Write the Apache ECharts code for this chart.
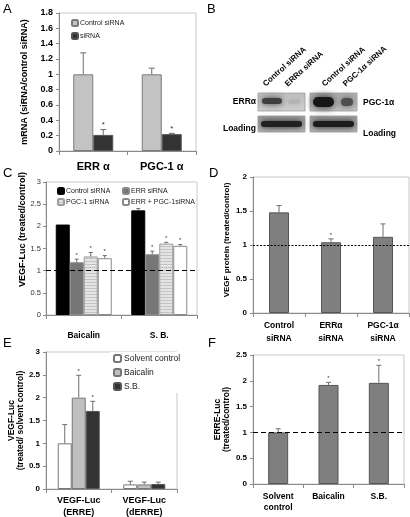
<!DOCTYPE html>
<html><head><meta charset="utf-8">
<script src="https://cdn.jsdelivr.net/npm/echarts@6/dist/echarts.min.js"></script>
<style>html,body{margin:0;padding:0;background:#fff}#c{width:410px;height:517px}</style>
</head><body><div id="c"></div>
<script>
// ---------- DATA ----------
// Panel A
const aCategories = ['ERR α', 'PGC-1 α'];
const aControl = [1.0, 1.0];
const aControlErr = [0.28, 0.08];
const aControlStar = [0, 0];
const aSirna = [0.21, 0.22];
const aSirnaErr = [0.07, 0.01];
const aSirnaStar = [1, 1];
const aTicks = [0, 1.8, 0.2];
// Panel C
const cCategories = ['Baicalin', 'S. B.'];
const cControl = [2.04, 2.36];
const cControlErr = [0, 0.04];
const cControlStar = [0, 0];
const cErr = [1.19, 1.37];
const cErrErr = [0.07, 0.07];
const cErrStar = [1, 1];
const cPgc = [1.32, 1.61];
const cPgcErr = [0.09, 0.03];
const cPgcStar = [1, 1];
const cBoth = [1.28, 1.56];
const cBothErr = [0.06, 0.03];
const cBothStar = [1, 1];
const cTicks = [0, 3, 0.5];
// Panel D
const dCategories = ['Control\nsiRNA', 'ERRα\nsiRNA', 'PGC-1α\nsiRNA'];
const dValues = [1.48, 1.04, 1.12];
const dErr = [0.1, 0.05, 0.19];
const dStar = [0, 1, 0];
const dTicks = [0, 2, 0.5];
// Panel E
const eCategories = ['VEGF-Luc\n(ERRE)', 'VEGF-Luc\n(dERRE)'];
const eSolvent = [1.0, 0.1];
const eSolventErr = [0.41, 0.07];
const eSolventStar = [0, 0];
const eBaicalin = [2.0, 0.1];
const eBaicalinErr = [0.49, 0.05];
const eBaicalinStar = [1, 0];
const eSB = [1.71, 0.11];
const eSBErr = [0.21, 0.04];
const eSBStar = [1, 0];
const eTicks = [0, 3, 0.5];
// Panel F
const fCategories = ['Solvent\ncontrol', 'Baicalin', 'S.B.'];
const fValues = [1.0, 1.92, 1.96];
const fErr = [0.07, 0.05, 0.34];
const fStar = [0, 1, 1];
const fTicks = [0, 2.5, 0.5];
// Reference line value
const refLine = 1;
// Blot labels (panel B)
const blotLaneLabels = ['Control siRNA', 'ERRα siRNA', 'Control siRNA', 'PGC-1α siRNA'];

// ---------- STYLE ----------
const FONT = "'Liberation Sans', Arial, sans-serif";
const AX = '#8a8a8a';

function stripe() {
  const cv = document.createElement('canvas');
  cv.width = 4; cv.height = 3;
  const g = cv.getContext('2d');
  g.fillStyle = '#e4e4e4'; g.fillRect(0, 0, 4, 3);
  g.fillStyle = '#c4c4c4'; g.fillRect(0, 0, 4, 1);
  return cv;
}

function yAx(gi, t, opts) {
  return Object.assign({
    type: 'value', gridIndex: gi, min: t[0], max: t[1], interval: t[2],
    axisLine: { show: true, lineStyle: { color: AX } },
    axisTick: { show: true, length: 3, lineStyle: { color: AX } },
    splitLine: { show: false },
    axisLabel: { fontFamily: FONT, fontSize: 8, fontWeight: 'bold', color: '#000', margin: 6 },
    nameLocation: 'middle', nameRotate: 90
  }, opts);
}
function xAx(gi, cats, lbl) {
  return {
    type: 'category', gridIndex: gi, data: cats,
    axisLine: { show: true, lineStyle: { color: AX } },
    axisTick: { show: true, length: 4, lineStyle: { color: AX } },
    axisLabel: Object.assign({ fontFamily: FONT, fontWeight: 'bold', color: '#000', interval: 0 }, lbl)
  };
}
function bar(name, gi, data, barW, style, extra) {
  return Object.assign({
    type: 'bar', name: name, xAxisIndex: gi, yAxisIndex: gi, data: data,
    barWidth: barW, barGap: '0%', itemStyle: style, silent: true, animation: false
  }, extra || {});
}
function errS(gi, vals, errs, stars, idx, n, barW, capW, starSize) {
  const data = vals.map((v, i) => [i, v, errs[i], stars[i]]);
  return {
    type: 'custom', name: 'err' + gi + '_' + idx, xAxisIndex: gi, yAxisIndex: gi,
    data: data, encode: { x: 0, y: 1 }, silent: true, animation: false, z: 5,
    renderItem: function (params, api) {
      const ci = api.value(0), v = api.value(1), e = api.value(2), s = api.value(3);
      const base = api.coord([ci, v]);
      const top = api.coord([ci, v + e]);
      const x = base[0] + (idx - (n - 1) / 2) * barW;
      const ch = [];
      if (e > 0) {
        ch.push({ type: 'line', shape: { x1: x, y1: base[1], x2: x, y2: top[1] }, style: { stroke: '#6e6e6e', lineWidth: 1 } });
        ch.push({ type: 'line', shape: { x1: x - capW / 2, y1: top[1], x2: x + capW / 2, y2: top[1] }, style: { stroke: '#6e6e6e', lineWidth: 1 } });
      }
      if (s) {
        ch.push({ type: 'text', style: { text: '*', x: x, y: top[1] - 1, textAlign: 'center', textVerticalAlign: 'bottom', fontSize: starSize, fontFamily: FONT, fill: '#333' } });
      }
      return { type: 'group', children: ch };
    }
  };
}
function refMark(type, w) {
  return { silent: true, symbol: 'none', label: { show: false }, animation: false,
    lineStyle: { type: type, color: '#000', width: w }, data: [{ yAxis: refLine }] };
}
const fmt = n => n.split('#')[0];

// ---------- BLOT (panel B, schematic image) ----------
function blotBox(x, y, w, h, bgTop, bgBot, bands) {
  const els = [{ type: 'rect', shape: { x: x, y: y, width: w, height: h },
    style: { fill: { type: 'linear', x: 0, y: 0, x2: 0, y2: 1, colorStops: [{ offset: 0, color: bgTop }, { offset: 1, color: bgBot }] }, stroke: '#a0a0a0', lineWidth: 0.8 } }];
  bands.forEach(b => els.push({ type: 'rect', shape: { x: b[0], y: b[1], width: b[2], height: b[3], r: b[3] / 2 },
    style: { fill: b[4], opacity: b[6] || 1, shadowBlur: b[5], shadowColor: b[4] } }));
  return { type: 'group', children: els, silent: true };
}
const graphics = [];
[['A', 3, 3], ['B', 207, 3], ['C', 3, 167], ['D', 209, 167], ['E', 3, 337], ['F', 208, 337]].forEach(p => {
  graphics.push({ type: 'text', x: p[1], y: p[2], style: { text: p[0], fontFamily: FONT, fontSize: 13, fill: '#000', textVerticalAlign: 'top' } });
});
graphics.push(blotBox(258, 93, 47, 18, '#bdbdbd', '#cfcfcf', [[262, 98, 20, 6, '#3a3a3a', 7, 0.95], [288, 99, 12, 5, '#b2b2b2', 5, 0.8]]));
graphics.push(blotBox(310, 93, 47, 18, '#b0b0b0', '#c4c4c4', [[313, 97, 21, 10, '#161616', 8], [341, 98, 12, 8, '#4e4e4e', 7]]));
graphics.push(blotBox(258, 116, 47, 16, '#9c9c9c', '#b4b4b4', [[261, 121, 41, 6, '#202020', 6]]));
graphics.push(blotBox(310, 116, 47, 16, '#9c9c9c', '#b4b4b4', [[313, 121, 41, 6, '#1c1c1c', 6]]));
[[267, 88], [289, 88], [326, 88], [347, 88]].forEach((a, i) => {
  graphics.push({ type: 'text', x: a[0], y: a[1], rotation: 42 * Math.PI / 180,
    style: { text: blotLaneLabels[i], fontFamily: FONT, fontSize: 8, fontWeight: 'bold', fill: '#000', textAlign: 'left', textVerticalAlign: 'bottom' } });
});
[['ERRα', 256, 102, 'right'], ['Loading', 256, 129, 'right'], ['PGC-1α', 363, 103, 'left'], ['Loading', 363, 134, 'left']].forEach(t => {
  graphics.push({ type: 'text', x: t[1], y: t[2], style: { text: t[0], fontFamily: FONT, fontSize: 8.5, fontWeight: 'bold', fill: '#000', textAlign: t[3], textVerticalAlign: 'middle' } });
});

// ---------- OPTION ----------
const gridBase = { show: true, borderColor: '#c8c8c8', borderWidth: 1, backgroundColor: 'transparent', containLabel: false, outerBoundsMode: 'none' };
const stripeImg = stripe();
const option = {
  animation: false,
  backgroundColor: '#fff',
  textStyle: { fontFamily: FONT },
  grid: [
    Object.assign({ left: 59, top: 13, width: 137, height: 138 }, gridBase),
    Object.assign({ left: 46, top: 182, width: 151, height: 133 }, gridBase),
    Object.assign({ left: 253, top: 177, width: 156, height: 136 }, gridBase),
    Object.assign({ left: 46, top: 352, width: 131, height: 137 }, gridBase),
    Object.assign({ left: 253, top: 355, width: 151, height: 129 }, gridBase)
  ],
  xAxis: [
    xAx(0, aCategories, { fontSize: 11, margin: 10 }),
    xAx(1, cCategories, { fontSize: 8.5, margin: 16 }),
    xAx(2, dCategories, { fontSize: 8.5, margin: 6, lineHeight: 13 }),
    xAx(3, eCategories, { fontSize: 9, margin: 6, lineHeight: 12 }),
    xAx(4, fCategories, { fontSize: 8.5, margin: 7, lineHeight: 11 })
  ],
  yAxis: [
    yAx(0, aTicks, { name: 'mRNA (siRNA/control siRNA)', nameGap: 30, axisLabel: { fontFamily: FONT, fontSize: 9, fontWeight: 'bold', color: '#000', margin: 6 },
      nameTextStyle: { fontFamily: FONT, fontSize: 9, fontWeight: 'bold', color: '#000' } }),
    yAx(1, cTicks, { name: 'VEGF-Luc (treated/control)', nameGap: 16, axisLabel: { fontFamily: FONT, fontSize: 7.5, color: '#333', margin: 5 },
      nameTextStyle: { fontFamily: FONT, fontSize: 9, fontWeight: 'bold', color: '#000', padding: [0, 0, 0, 38] } }),
    yAx(2, dTicks, { name: 'VEGF protein (treated/control)', nameGap: 22,
      nameTextStyle: { fontFamily: FONT, fontSize: 8, fontWeight: 'bold', color: '#000', padding: [0, 0, 0, 10] } }),
    yAx(3, eTicks, { name: 'VEGF-Luc\n(treated/ solvent control)', nameGap: 17,
      nameTextStyle: { fontFamily: FONT, fontSize: 8.5, fontWeight: 'bold', color: '#000', lineHeight: 9 } }),
    yAx(4, fTicks, { name: 'ERRE-Luc\n(treated/control)', nameGap: 22,
      nameTextStyle: { fontFamily: FONT, fontSize: 8.5, fontWeight: 'bold', color: '#000', lineHeight: 9 } })
  ],
  legend: [
    { data: ['Control siRNA#A', 'siRNA#A'], formatter: fmt, orient: 'vertical', left: 71, top: 19, itemWidth: 6, itemHeight: 6, itemGap: 5, padding: 0,
      selectedMode: false, textStyle: { fontFamily: FONT, fontSize: 7, color: '#222', padding: [0, 0, 0, -3] } },
    { data: ['Control siRNA#C', 'PGC-1 siRNA#C'], formatter: fmt, orient: 'vertical', left: 57, top: 187, itemWidth: 6, itemHeight: 6, itemGap: 3, padding: 0,
      selectedMode: false, textStyle: { fontFamily: FONT, fontSize: 7, color: '#222', padding: [0, 0, 0, -3] } },
    { data: ['ERR siRNA#C', 'ERR + PGC-1siRNA#C'], formatter: fmt, orient: 'vertical', left: 122, top: 187, itemWidth: 6, itemHeight: 6, itemGap: 3, padding: 0,
      selectedMode: false, textStyle: { fontFamily: FONT, fontSize: 7, color: '#222', padding: [0, 0, 0, -3] } },
    { data: ['Solvent control#E', 'Baicalin#E', 'S.B.#E'], formatter: fmt, orient: 'vertical', left: 110, top: 352, itemWidth: 7, itemHeight: 7, itemGap: 5,
      padding: [2, 3, 2, 3], backgroundColor: '#fff', selectedMode: false, textStyle: { fontFamily: FONT, fontSize: 8.5, color: '#222', padding: [0, 0, 0, -2] } }
  ],
  series: [
    // A
    bar('Control siRNA#A', 0, aControl, 20, { color: '#c3c3c3', borderColor: '#7a7a7a', borderWidth: 1 }),
    bar('siRNA#A', 0, aSirna, 20, { color: '#333333', borderColor: '#555', borderWidth: 1 }),
    errS(0, aControl, aControlErr, aControlStar, 0, 2, 20, 6, 8),
    errS(0, aSirna, aSirnaErr, aSirnaStar, 1, 2, 20, 6, 8),
    // C
    bar('Control siRNA#C', 1, cControl, 14, { color: '#000', borderColor: '#000', borderWidth: 1 }),
    bar('ERR siRNA#C', 1, cErr, 14, { color: '#767676', borderColor: '#8a8a8a', borderWidth: 1 }),
    bar('PGC-1 siRNA#C', 1, cPgc, 14, { color: { image: stripeImg, repeat: 'repeat' }, borderColor: '#9a9a9a', borderWidth: 1 }),
    bar('ERR + PGC-1siRNA#C', 1, cBoth, 14, { color: '#fff', borderColor: '#8a8a8a', borderWidth: 1 },
      { markLine: refMark([5, 3], 1.2) }),
    errS(1, cControl, cControlErr, cControlStar, 0, 4, 14, 4, 6),
    errS(1, cErr, cErrErr, cErrStar, 1, 4, 14, 4, 6),
    errS(1, cPgc, cPgcErr, cPgcStar, 2, 4, 14, 4, 6),
    errS(1, cBoth, cBothErr, cBothStar, 3, 4, 14, 4, 6),
    // D
    bar('VEGF protein', 2, dValues, 20, { color: '#7f7f7f', borderColor: '#555', borderWidth: 1 },
      { markLine: refMark([2, 1.5], 1) }),
    errS(2, dValues, dErr, dStar, 0, 1, 20, 5, 6),
    // E
    bar('Solvent control#E', 3, eSolvent, 14, { color: '#fff', borderColor: '#777', borderWidth: 1 }),
    bar('Baicalin#E', 3, eBaicalin, 14, { color: '#c0c0c0', borderColor: '#777', borderWidth: 1 }),
    bar('S.B.#E', 3, eSB, 14, { color: '#333', borderColor: '#555', borderWidth: 1 }),
    errS(3, eSolvent, eSolventErr, eSolventStar, 0, 3, 14, 5, 6),
    errS(3, eBaicalin, eBaicalinErr, eBaicalinStar, 1, 3, 14, 5, 6),
    errS(3, eSB, eSBErr, eSBStar, 2, 3, 14, 5, 6),
    // F
    bar('ERRE-Luc', 4, fValues, 20, { color: '#7f7f7f', borderColor: '#555', borderWidth: 1 },
      { markLine: refMark([5, 3], 1.2) }),
    errS(4, fValues, fErr, fStar, 0, 1, 20, 5, 6)
  ],
  graphic: graphics
};
const chart = echarts.init(document.getElementById('c'), null, { renderer: 'canvas' });
chart.setOption(option);
</script></body></html>
